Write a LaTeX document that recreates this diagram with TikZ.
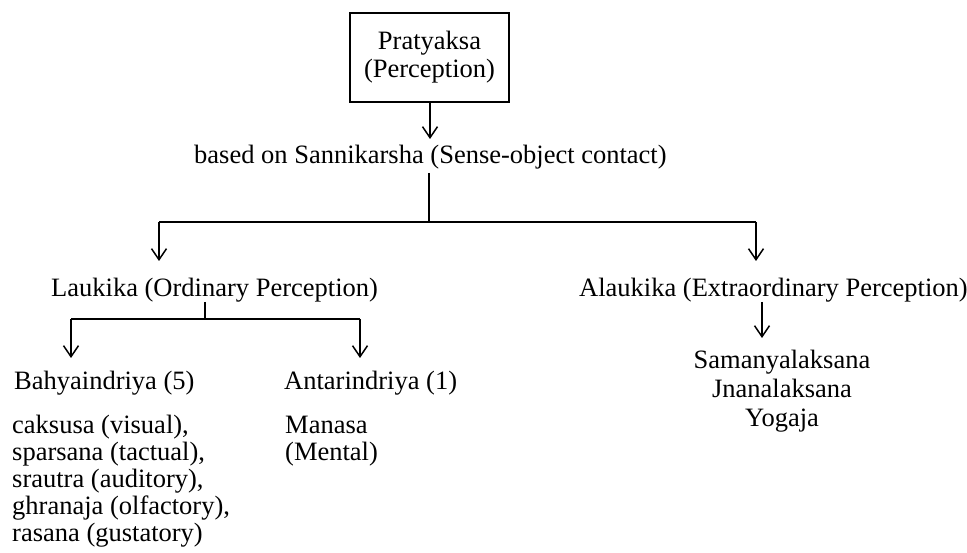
\documentclass[tikz,border=0pt]{standalone}
\usepackage{fontspec}
\setmainfont{Liberation Serif}
\usetikzlibrary{arrows.meta}
\begin{document}
\begin{tikzpicture}[x=1pt,y=-1pt,
  lbl/.style={inner sep=0pt, font=\fontsize{26.5}{28}\selectfont},
  lblw/.style={lbl, anchor=base west},
  lblc/.style={lbl, anchor=base},
  thickln/.style={line width=1.7pt},
  thinln/.style={line width=1.1pt},
  arr/.style={-{Straight Barb[length=11pt,width=15pt,line width=1.5pt]}},
]
\useasboundingbox (0,0) rectangle (967,553);

% top box
\node[lbl, draw, line width=1.5pt, minimum width=159pt, minimum height=89pt, align=center] (prat) at (429.5,57.5) {Pratyaksa\\(Perception)};

% level texts
\node[lblw] (based) at (194,164) {based on Sannikarsha (Sense-object contact)};
\node[lblw] (lauk) at (51,297) {Laukika (Ordinary Perception)};
\node[lblw] (alauk) at (579,297) {Alaukika (Extraordinary Perception)};
\node[lblw] (bahya) at (14,389) {Bahyaindriya (5)};
\node[lblw] (antar) at (284,389) {Antarindriya (1)};

% lists
\node[lblw] (b1) at (12,433) {caksusa (visual),};
\node[lblw] (b2) at (12,460) {sparsana (tactual),};
\node[lblw] (b3) at (12,487) {srautra (auditory),};
\node[lblw] (b4) at (12,514) {ghranaja (olfactory),};
\node[lblw] (b5) at (12,541) {rasana (gustatory)};
\node[lblw] (m1) at (285,433) {Manasa};
\node[lblw] (m2) at (285,460) {(Mental)};
\node[lblc] (s1) at (782,369) {Samanyalaksana};
\node[lblc] (s2) at (782,398) {Jnanalaksana};
\node[lblc] (s3) at (782,426) {Yogaja};

% junction / tip coordinates
\coordinate (t0) at (430,139);
\coordinate (j0) at (429,173);
\coordinate (j1) at (429,222);
\coordinate (jl) at (159,222);
\coordinate (jr) at (756,222);
\coordinate (tl) at (159,261);
\coordinate (tr) at (756,261);
\coordinate (k0) at (205,302);
\coordinate (k1) at (205,319);
\coordinate (kl) at (71,319);
\coordinate (kr) at (360,319);
\coordinate (tkl) at (71,358);
\coordinate (tkr) at (360,358);
\coordinate (a0) at (762,302);
\coordinate (ta) at (762,338);

% connectors
\draw[thickln, arr] (prat.south -| t0) -- (t0);
\draw[thinln] (j0) -- (j1);
\draw[thickln] (jl) -- (jr);
\draw[thickln, arr] (jl) -- (tl);
\draw[thinln, arr] (jr) -- (tr);
\draw[thinln] (k0) -- (k1);
\draw[thickln] (kl) -- (kr);
\draw[thinln, arr] (kl) -- (tkl);
\draw[thinln, arr] (kr) -- (tkr);
\draw[thinln, arr] (a0) -- (ta);
\end{tikzpicture}
\end{document}
